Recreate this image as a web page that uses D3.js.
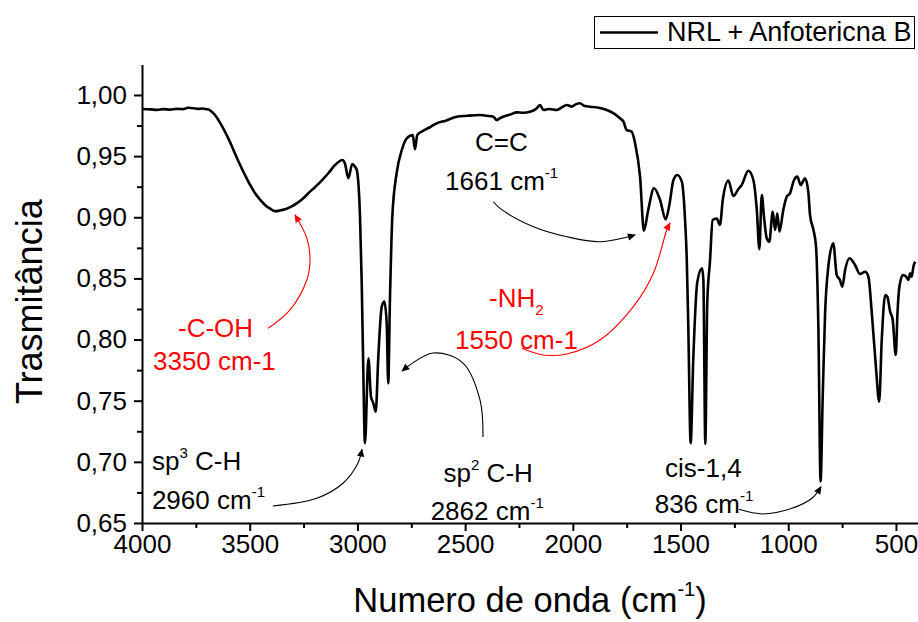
<!DOCTYPE html>
<html lang="pt">
<head>
<meta charset="utf-8" />
<title>FTIR · NRL + Anfotericna B</title>
<style>
html,body{margin:0;background:#fff}
svg{display:block}
svg text{font-family:Arial,"Liberation Sans",Helvetica,sans-serif}
.axis path,.axis line{stroke:#000;stroke-width:2}
.axis text{font-size:26px;fill:#000}
.spectrum{fill:none;stroke:#000;stroke-width:2.6;stroke-linejoin:round}
.anno{fill:none;stroke-width:1.1}
</style>
<script src="https://cdn.jsdelivr.net/npm/d3@7/dist/d3.min.js"></script>
</head>
<body>
<div id="chart"></div>

<script>
/* ------------------------------ data ---------------------------------- */
const wavenumber = [
  4000,3960,3930,3900,3870,3840,3810,3786,3760,3740,3720,3700,3684,3661,3640,3615,3590,3568,3545,3522,
  3500,3475,3450,3429,3405,3383,3360,3336,3310,3282,3255,3228,3195,3166,3135,3104,3070,3058,3042,3024,
  3011,3003,2988,2980,2973,2965,2949,2937,2926,2915,2903,2887,2875,2864,2857,2849,2838,2818,2794,2771,
  2743,2733,2722,2694,2660,2632,2590,2539,2490,2431,2400,2369,2353,2340,2323,2290,2260,2230,2199,2168,
  2152,2137,2110,2075,2050,2028,2005,1985,1967,1945,1920,1880,1843,1810,1781,1765,1750,1727,1711,1688,
  1670,1650,1623,1595,1569,1552,1533,1515,1494,1479,1471,1464,1453,1441,1422,1400,1394,1385,1376,1363,
  1351,1332,1317,1304,1278,1255,1232,1216,1185,1162,1146,1134,1123,1112,1100,1088,1072,1061,1051,1041,
  1023,1007,992,973,958,942,922,907,899,883,871,860,850,840,829,814,791,775,760,749,
  736,716,690,667,643,628,612,592,578,566,550,540,527,515,501,493,484,468,453,442,
  434,427,419,411
];
const transmittance = [
  0.9885,0.9882,0.9878,0.9884,0.9880,0.9886,0.9884,0.9896,0.9892,0.9886,0.9890,0.9884,0.9875,0.9836,0.9780,0.9700,0.9610,0.9520,0.9430,0.9346,
  0.9270,0.9196,0.9140,0.9100,0.9070,0.9050,0.9055,0.9065,0.9085,0.9114,0.9150,0.9196,0.9250,0.9300,0.9360,0.9427,0.9468,0.9440,0.9320,0.9436,
  0.9413,0.9387,0.9005,0.8460,0.7778,0.7152,0.7847,0.7533,0.7479,0.7410,0.7860,0.8269,0.8310,0.8133,0.7642,0.8323,0.9005,0.9360,0.9550,0.9646,
  0.9673,0.9556,0.9673,0.9708,0.9740,0.9768,0.9790,0.9822,0.9830,0.9836,0.9830,0.9822,0.9795,0.9808,0.9822,0.9840,0.9858,0.9855,0.9863,0.9890,
  0.9918,0.9877,0.9885,0.9877,0.9900,0.9918,0.9905,0.9925,0.9932,0.9910,0.9904,0.9895,0.9877,0.9850,0.9809,0.9782,0.9714,0.9700,0.9605,0.9332,
  0.8890,0.9060,0.9237,0.9141,0.8983,0.9100,0.9305,0.9346,0.9291,0.8978,0.8650,0.8105,0.7152,0.7833,0.8473,0.8583,0.8487,0.7146,0.8297,0.8650,
  0.8978,0.8990,0.8937,0.9141,0.9300,0.9174,0.9229,0.9264,0.9380,0.9305,0.9060,0.8738,0.9182,0.8992,0.8828,0.8800,0.9046,0.8896,0.9032,0.8883,
  0.9060,0.9169,0.9196,0.9305,0.9332,0.9264,0.9319,0.9210,0.9019,0.8896,0.8760,0.8078,0.6840,0.7533,0.8215,0.8596,0.8787,0.8528,0.8487,0.8432,
  0.8569,0.8665,0.8610,0.8536,0.8555,0.8514,0.8215,0.7751,0.7492,0.7996,0.8364,0.8350,0.8228,0.8160,0.7874,0.8215,0.8432,0.8528,0.8514,0.8487,
  0.8542,0.8514,0.8596,0.8637
];

const xTicks = [4000,3500,3000,2500,2000,1500,1000,500];
const xMinor = [3750,3250,2750,2250,1750,1250,750];
const yTicks = [0.65,0.70,0.75,0.80,0.85,0.90,0.95,1.00];
const yMinor = [0.675,0.725,0.775,0.825,0.875,0.925,0.975];

const seriesName = "NRL + Anfotericna B";

// annotation arrows, points in (cm-1, transmittance)
const arrowSp3  = [[3393,0.6639],[3189,0.6702],[3067,0.6825],[2998,0.6988],[2979,0.7103]];
const arrowSp2  = [[2417,0.7203],[2431,0.7506],[2510,0.7808],[2649,0.7890],[2793,0.7743]];
const arrowCis  = [[1228,0.6612],[1119,0.6574],[983,0.6620],[890,0.6702],[848,0.6797]];
const arrowCC   = [[2369,0.9127],[2338,0.9073],[2183,0.8923],[2028,0.8841],[1874,0.8800],[1711,0.8855]];
const arrowNH2  = [[2237,0.7929],[2137,0.7874],[2028,0.7882],[1874,0.7996],[1719,0.8269],[1626,0.8542],[1564,0.8896],[1549,0.8953]];
const arrowCOH  = [[3414,0.8092],[3313,0.8242],[3235,0.8487],[3220,0.8651],[3235,0.8831],[3290,0.9019]];

// annotation texts: [cm-1, transmittance, parts, colour]
const labels = [
  [3954, 0.6933, [["sp"],["3","sup"],[" C-H"]], "#000"],
  [3954, 0.6614, [["2960 cm"],["-1","sup"]], "#000"],
  [2600, 0.6835, [["sp"],["2","sup"],[" C-H"]], "#000"],
  [2660, 0.6525, [["2862 cm"],["-1","sup"]], "#000"],
  [1572, 0.6876, [["cis-1,4"]], "#000"],
  [1620, 0.6582, [["836 cm"],["-1","sup"]], "#000"],
  [2454, 0.9542, [["C=C"]], "#000"],
  [2593, 0.9223, [["1661 cm"],["-1","sup"]], "#000"],
  [2389, 0.8266, [["-NH"],["2","sub"]], "#ff0000"],
  [2547, 0.7923, [["1550 cm-1"]], "#ff0000"],
  [3833, 0.8021, [["-C-OH"]], "#ff0000"],
  [3949, 0.7751, [["3350 cm-1"]], "#ff0000"]
];

/* ----------------------------- layout --------------------------------- */
const width = 918, height = 622;
const mLeft = 142, mRight = 917.5, mTop = 64.4, mBottom = 523;

const svg = d3.select("#chart").append("svg")
  .attr("width", width).attr("height", height);

const x = d3.scaleLinear().domain([4000, 400]).range([mLeft, mRight]);
const y = d3.scaleLinear().domain([0.65, 1.025]).range([mBottom, mTop]);

const defs = svg.append("defs");
[["arrowBlack","#000"],["arrowRed","#ff0000"]].forEach(([id, c]) => {
  defs.append("marker")
    .attr("id", id).attr("viewBox", "0 0 10 10")
    .attr("refX", 9).attr("refY", 5)
    .attr("markerWidth", 11).attr("markerHeight", 8)
    .attr("markerUnits", "userSpaceOnUse")
    .attr("orient", "auto")
    .append("path").attr("d", "M0,0.5L10,5L0,9.5Z").attr("fill", c);
});
defs.append("clipPath").attr("id", "plotClip")
  .append("rect").attr("x", mLeft).attr("y", mTop - 5)
  .attr("width", mRight - mLeft).attr("height", mBottom - mTop + 5);

/* ----------------------------- axes ----------------------------------- */
const fmt = d => d3.format(".2f")(d).replace(".", ",");

svg.append("g").attr("class", "axis")
  .attr("transform", `translate(0,${mBottom})`)
  .call(d3.axisBottom(x).tickValues(xMinor).tickSize(5).tickFormat("").tickSizeOuter(0))
  .select(".domain").remove();
svg.append("g").attr("class", "axis")
  .attr("transform", `translate(${mLeft},0)`)
  .call(d3.axisLeft(y).tickValues(yMinor).tickSize(5).tickFormat("").tickSizeOuter(0))
  .select(".domain").remove();

svg.append("g").attr("class", "axis")
  .attr("transform", `translate(0,${mBottom})`)
  .call(d3.axisBottom(x).tickValues(xTicks).tickFormat(d3.format("d"))
    .tickSize(8).tickPadding(4).tickSizeOuter(0));
svg.append("g").attr("class", "axis")
  .attr("transform", `translate(${mLeft},0)`)
  .call(d3.axisLeft(y).tickValues(yTicks).tickFormat(fmt).tickSize(8).tickPadding(7).tickSizeOuter(0));

// axis titles
svg.append("text")
  .attr("transform", `translate(42,${(mTop + mBottom) / 2 + 8}) rotate(-90)`)
  .attr("text-anchor", "middle").attr("font-size", 36)
  .text("Trasmitância");

const xt = svg.append("text")
  .attr("x", 530).attr("y", 612)
  .attr("text-anchor", "middle").attr("font-size", 34.5);
xt.append("tspan").text("Numero de onda (cm");
xt.append("tspan").attr("font-size", 20).attr("dy", -16).text("-1");
xt.append("tspan").attr("dy", 16).text(")");

/* --------------------------- spectrum --------------------------------- */
const pts = wavenumber.map((w, i) => [w, transmittance[i]]);

svg.append("path")
  .datum(pts)
  .attr("class", "spectrum")
  .attr("clip-path", "url(#plotClip)")
  .attr("d", d3.line().x(d => x(d[0])).y(d => y(d[1])).curve(d3.curveMonotoneX));

/* -------------------------- annotations ------------------------------- */
const annoG = svg.append("g");
const arrowLine = d3.line().x(d => x(d[0])).y(d => y(d[1])).curve(d3.curveCatmullRom.alpha(0.5));

[[arrowSp3,"#000","arrowBlack"],[arrowSp2,"#000","arrowBlack"],[arrowCis,"#000","arrowBlack"],
 [arrowCC,"#000","arrowBlack"],[arrowNH2,"#ff0000","arrowRed"],[arrowCOH,"#ff0000","arrowRed"]]
  .forEach(([a, c, m]) => {
    annoG.append("path").attr("class", "anno")
      .attr("d", arrowLine(a))
      .attr("stroke", c)
      .attr("marker-end", `url(#${m})`);
  });

labels.forEach(([w, v, parts, c]) => {
  const t = annoG.append("text")
    .attr("x", x(w)).attr("y", y(v))
    .attr("fill", c).attr("font-size", 26);
  let shift = 0;
  parts.forEach(([s, kind]) => {
    const target = kind === "sup" ? -12 : kind === "sub" ? 8 : 0;
    const sp = t.append("tspan").text(s).attr("dy", target - shift);
    if (kind) sp.attr("font-size", 15);
    shift = target;
  });
});

/* ----------------------------- legend --------------------------------- */
const lg = svg.append("g");
lg.append("rect")
  .attr("x", 594.5).attr("y", 16.5).attr("width", 320).attr("height", 32)
  .attr("fill", "#fff").attr("stroke", "#000").attr("stroke-width", 1);
lg.append("line")
  .attr("x1", 600).attr("x2", 658).attr("y1", 32.5).attr("y2", 32.5)
  .attr("stroke", "#000").attr("stroke-width", 2.6);
lg.append("text")
  .attr("x", 667).attr("y", 41).attr("font-size", 27)
  .text(seriesName);
</script>
</body>
</html>
